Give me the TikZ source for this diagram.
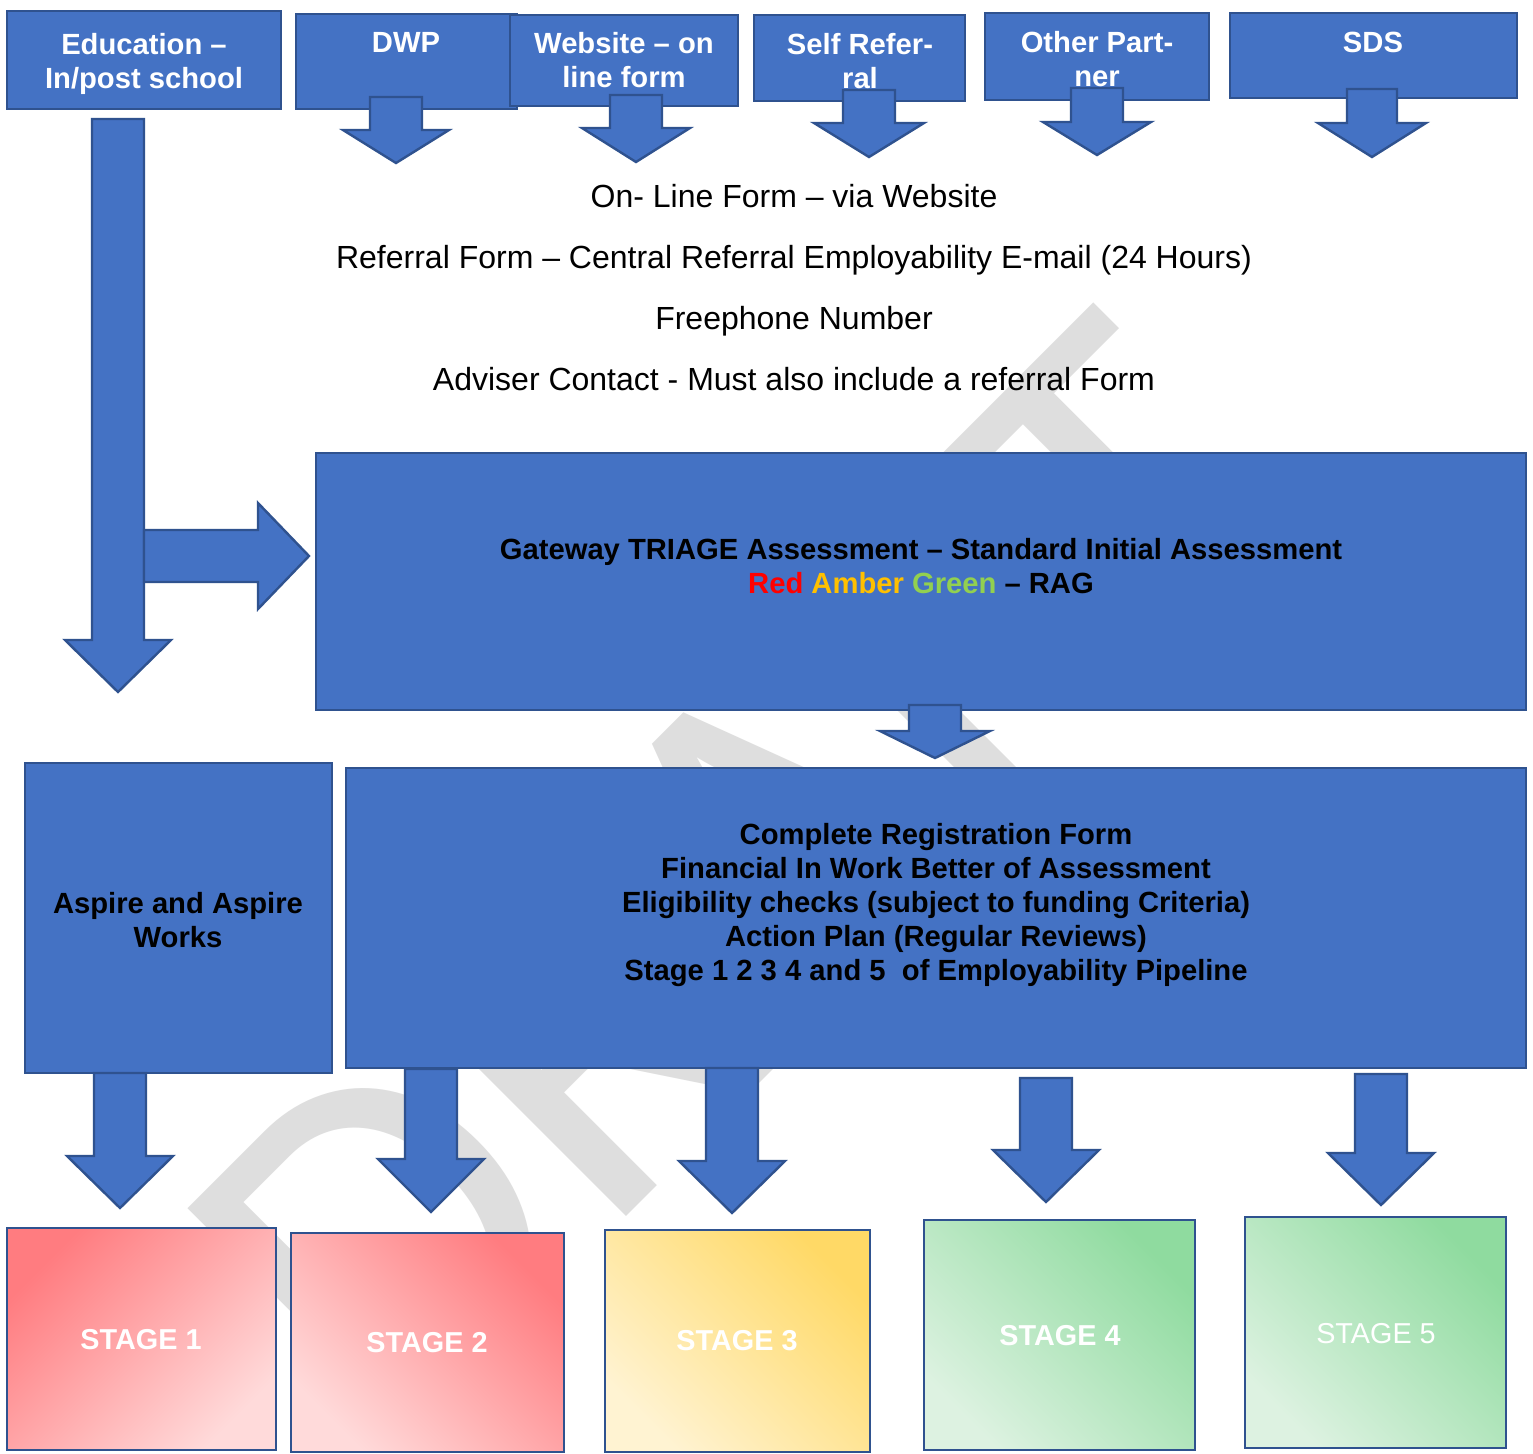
\documentclass[tikz,border=0pt]{standalone}
\usepackage{fontspec}
\setmainfont{Liberation Sans}
\newfontfamily\wmfont{Carlito}
\usetikzlibrary{fit,calc}
\definecolor{boxblue}{HTML}{4472C4}
\definecolor{edgeblue}{HTML}{2F528F}
\definecolor{wmgray}{HTML}{DEDEDE}
\definecolor{ragred}{HTML}{FF0000}
\definecolor{ragamber}{HTML}{FFC000}
\definecolor{raggreen}{HTML}{92D050}
\definecolor{sonedark}{HTML}{FF7C80}
\definecolor{sonelight}{HTML}{FFDADA}
\definecolor{sthreedark}{HTML}{FFD966}
\definecolor{sthreelight}{HTML}{FFF3D2}
\definecolor{sfourdark}{HTML}{8FDB9F}
\definecolor{sfourlight}{HTML}{DDF2E1}
\newcommand\downblock[6]{%
  \draw[blockarrow] (#1-#3,#2) -- (#1+#3,#2) -- (#1+#3,#4) -- (#1+#5,#4)
    -- (#1,#6) -- (#1-#5,#4) -- (#1-#3,#4) -- cycle;}
\begin{document}
\begin{tikzpicture}[x=0.5pt,y=-0.5pt,
  bluebox/.style={draw=edgeblue, fill=boxblue, line width=1.2pt, inner sep=0pt},
  blockarrow/.style={draw=edgeblue, fill=boxblue, line width=1.2pt, line join=miter},
  stagebox/.style={draw=edgeblue, line width=1.2pt, inner sep=0pt},
  wtext/.style={text=white, font=\fontsize{14.6}{17}\selectfont\bfseries, align=center, inner sep=0pt},
  btext/.style={text=black, font=\fontsize{14.6}{17}\selectfont\bfseries, align=center, inner sep=0pt},
  plaintext/.style={text=black, font=\fontsize{16}{19}\selectfont, inner sep=0pt},
  stagetext/.style={text=white, font=\fontsize{14.4}{17}\selectfont\bfseries, inner sep=0pt}]
\useasboundingbox[fill=white] (0,0) rectangle (1533,1453);

% watermark
\node[anchor=base west, rotate=45, inner sep=0pt, text=wmgray,
  font=\fontsize{246}{246}\selectfont\wmfont] (wm) at (387,1456) {DRAFT};

% free text lines
\node[plaintext] (l1) at (794,196) {On- Line Form – via Website};
\node[plaintext] (l2) at (794,260) {Referral Form – Central Referral Employability E-mail (24 Hours)};
\node[plaintext] (l3) at (794,321) {Freephone Number};
\node[plaintext] (l4) at (794,379) {Adviser Contact - Must also include a referral Form};

% top boxes
\node[bluebox, fit={(7,11) (281,109)}] (edu) {};
\node[bluebox, fit={(296,14) (517,109)}] (dwp) {};
\node[bluebox, fit={(510,15) (738,106)}] (web) {};
\node[bluebox, fit={(754,15) (965,101)}] (self) {};
\node[bluebox, fit={(985,13) (1209,100)}] (other) {};
\node[bluebox, fit={(1230,13) (1517,98)}] (sds) {};

% main boxes
\node[bluebox, fit={(316,453) (1526,710)}] (gate) {};
\node[bluebox, fit={(25,763) (332,1073)}] (aspire) {};
\node[bluebox, fit={(346,768) (1526,1068)}] (reg) {};

% stage boxes
\node[stagebox, fit={(7,1228) (276,1450)}, top color=sonedark, bottom color=sonelight, shading angle=45] (s1) {};
\node[stagebox, fit={(291,1233) (564,1452)}, top color=sonedark, bottom color=sonelight, shading angle=-45] (s2) {};
\node[stagebox, fit={(605,1230) (870,1452)}, top color=sthreedark, bottom color=sthreelight, shading angle=-45] (s3) {};
\node[stagebox, fit={(924,1220) (1195,1450)}, top color=sfourdark, bottom color=sfourlight, shading angle=-45] (s4) {};
\node[stagebox, fit={(1245,1217) (1506,1448)}, top color=sfourdark, bottom color=sfourlight, shading angle=-45] (s5) {};

% block arrows
\downblock{396}{97}{26}{130}{53}{163}
\downblock{636}{95}{26}{128}{54}{162}
\downblock{869}{90}{26}{123}{55}{157}
\downblock{1097}{88}{26}{122}{54}{155}
\downblock{1372}{89}{25}{123}{54}{157}
\downblock{118}{119}{26}{640}{53}{692}
\draw[blockarrow] (144,530) -- (258,530) -- (258,503) -- (309,556) -- (258,609) -- (258,582) -- (144,582) -- cycle;
\downblock{935}{705}{26}{731}{55}{758}
\downblock{120}{1073}{26}{1156}{53}{1208}
\downblock{431}{1069}{26}{1159}{53}{1212}
\downblock{732}{1068}{26}{1161}{53}{1213}
\downblock{1046}{1078}{26}{1150}{53}{1202}
\downblock{1381}{1074}{26}{1153}{53}{1205}

% box texts
\node[wtext] (edut) at (144,64) {Education –\\In/post school};
\node[wtext] (dwpt) at (406,42) {DWP};
\node[wtext] (webt) at (624,60) {Website – on\\line form};
\node[wtext] (selft) at (860,61) {Self Refer-\\ral};
\node[wtext] (othert) at (1097,59) {Other Part-\\ner};
\node[wtext] (sdst) at (1373,42) {SDS};

\node[btext] (gatet) at (921,566) {Gateway TRIAGE Assessment – Standard Initial Assessment\\
  \textcolor{ragred}{Red} \textcolor{ragamber}{Amber} \textcolor{raggreen}{Green} – RAG};
\node[btext] (aspiret) at (178,920) {Aspire and Aspire\\Works};
\node[btext] (regt) at (936,905) {Complete Registration Form\\
  Financial In Work Better of Assessment\\
  Eligibility checks (subject to funding Criteria)\\
  Action Plan (Regular Reviews)\\
  Stage 1 2 3 4 and 5\ \ of Employability Pipeline};

\node[stagetext] (s1t) at (141,1340) {STAGE 1};
\node[stagetext] (s2t) at (427,1343) {STAGE 2};
\node[stagetext] (s3t) at (737,1341) {STAGE 3};
\node[stagetext] (s4t) at (1060,1336) {STAGE 4};
\node[stagetext, font=\fontsize{14.4}{17}\selectfont] (s5t) at (1376,1334) {STAGE 5};
\end{tikzpicture}
\end{document}
